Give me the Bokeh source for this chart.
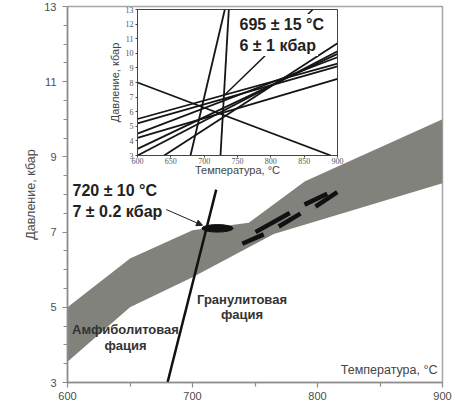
from bokeh.plotting import figure
from bokeh.models import Range1d, FixedTicker, Label, Arrow, NormalHead, ColumnDataSource
from bokeh.embed import file_html
from bokeh.resources import INLINE

# ---------------- main diagram data ----------------
band_upper_T = [600, 650, 700, 745, 790, 900]
band_upper_P = [5.0, 6.3, 7.05, 7.25, 8.35, 10.0]
band_lower_T = [600, 650, 700, 765, 900]
band_lower_P = [3.55, 5.0, 5.8, 6.95, 8.3]

reaction_T = [680, 719]
reaction_P = [3.0, 8.13]

estimate_T = [720]
estimate_P = [7.1]
estimate_dT = [25]
estimate_dP = [0.2]

dash_T0 = [739.8, 750.4, 769.0, 789.6, 798.4]
dash_P0 = [6.69, 7.00, 7.15, 7.73, 7.68]
dash_T1 = [757.0, 777.8, 786.4, 807.8, 815.8]
dash_P1 = [6.94, 7.51, 7.49, 8.02, 8.06]

main_x_ticks = [600, 700, 800, 900]
main_x_minor = [650, 750, 850]
main_y_ticks = [3, 5, 7, 9, 11, 13]
main_y_minor = [3.5, 4, 4.5, 5.5, 6, 6.5, 7.5, 8, 8.5, 9.5, 10, 10.5, 11.5, 12, 12.5]

# ---------------- inset data ----------------
inset_T0 = [600, 600, 600, 600, 600, 600, 640, 600, 679.5, 724.5]
inset_P0 = [5.5, 5.2, 4.5, 4.2, 3.45, 3.0, 3.0, 8.0, 3.0, 3.0]
inset_T1 = [900, 900, 900, 900, 900, 900, 900, 890, 731, 737]
inset_P1 = [9.3, 9.1, 9.73, 8.25, 9.96, 10.14, 10.69, 3.0, 13.0, 13.0]

inset_x_ticks = [600, 650, 700, 750, 800, 850, 900]
inset_y_ticks = [3, 4, 5, 6, 7, 8, 9, 10, 11, 12, 13]

leader_T = [731, 863]
leader_P = [7.16, 13.0]

FONT = "Liberation Sans"

# ---------------- main figure ----------------
p = figure(width=458, height=405, x_range=Range1d(600, 900), y_range=Range1d(3, 13),
           output_backend="svg", toolbar_location=None,
           min_border_left=67, min_border_right=16, min_border_top=6, min_border_bottom=23)
p.styles = {"position": "absolute", "left": "0px", "top": "0px"}
p.xgrid.visible = False
p.ygrid.visible = False
p.outline_line_color = "#a6a6a6"
p.outline_line_width = 1.5

for ax in (p.xaxis[0], p.yaxis[0]):
    ax.axis_line_color = "#8c8c8c"
    ax.axis_line_width = 1.5
    ax.major_tick_line_color = "#8c8c8c"
    ax.minor_tick_line_color = "#8c8c8c"
    ax.major_tick_line_width = 1.2
    ax.minor_tick_line_width = 1.2
    ax.major_tick_in = 0
    ax.major_tick_out = 5
    ax.minor_tick_in = 0
    ax.minor_tick_out = 4
    ax.major_label_text_font = FONT
    ax.major_label_text_font_size = "11px"
    ax.major_label_text_color = "#4d4d4d"

p.xaxis.ticker = FixedTicker(ticks=main_x_ticks, minor_ticks=main_x_minor)
p.yaxis.ticker = FixedTicker(ticks=main_y_ticks, minor_ticks=main_y_minor)
p.xaxis.major_label_standoff = 4
p.yaxis.major_label_standoff = 6
p.yaxis.axis_label = "Давление, кбар"
p.yaxis.axis_label_text_font = FONT
p.yaxis.axis_label_text_font_size = "12.5px"
p.yaxis.axis_label_text_font_style = "normal"
p.yaxis.axis_label_text_color = "#4d4d4d"
p.yaxis.axis_label_standoff = 3

band_T = band_upper_T + band_lower_T[::-1]
band_P = band_upper_P + band_lower_P[::-1]
p.patch(band_T, band_P, fill_color="#82827d", line_color=None)

p.segment(x0=dash_T0, y0=dash_P0, x1=dash_T1, y1=dash_P1,
          line_color="#111111", line_width=4.5, line_cap="butt")

p.ellipse(x=estimate_T, y=estimate_P, width=estimate_dT, height=estimate_dP,
          fill_color="#111111", line_color="#111111")

p.line(reaction_T, reaction_P, line_color="#111111", line_width=2.5)

p.add_layout(Arrow(end=NormalHead(size=6, fill_color="#222222", line_color="#222222"),
                   x_start=679, y_start=7.6, x_end=708, y_end=7.18,
                   line_color="#222222", line_width=1))

def lab(fig, x, y, text, size, bold=False, align="left", color="#222222", bg=None):
    kw = {}
    if bg is not None:
        kw = dict(background_fill_color=bg, padding=2)
    fig.add_layout(Label(x=x, y=y, text=text, text_font=FONT, text_font_size=size,
                         text_font_style="bold" if bold else "normal",
                         text_align=align, text_baseline="middle", text_color=color, **kw))

lab(p, 604, 8.11, "720 ± 10 °C", "16px", bold=True)
lab(p, 604, 7.55, "7 ± 0.2 кбар", "16px", bold=True)
lab(p, 646.4, 4.41, "Амфиболитовая", "13px", bold=True, align="center", color="#333333")
lab(p, 646.4, 3.98, "фация", "13px", bold=True, align="center", color="#333333")
lab(p, 739.6, 5.21, "Гранулитовая", "13px", bold=True, align="center", color="#333333")
lab(p, 739.6, 4.81, "фация", "13px", bold=True, align="center", color="#333333")
lab(p, 896, 3.32, "Температура, °C", "12.5px", align="right", color="#444444")

# ---------------- inset figure ----------------
q = figure(width=240, height=177, x_range=Range1d(600, 900), y_range=Range1d(3, 13),
           output_backend="svg", toolbar_location=None,
           min_border_left=32, min_border_right=8, min_border_top=4, min_border_bottom=27)
q.styles = {"position": "absolute", "left": "105px", "top": "5px"}
q.border_fill_alpha = 0
q.background_fill_color = "white"
q.xgrid.visible = False
q.ygrid.visible = False
q.outline_line_color = "#444444"
q.outline_line_width = 1

for ax in (q.xaxis[0], q.yaxis[0]):
    ax.axis_line_color = "#444444"
    ax.major_tick_line_color = "#444444"
    ax.major_tick_in = 0
    ax.major_tick_out = 2
    ax.minor_tick_out = 0
    ax.minor_tick_in = 0
    ax.major_label_text_font = "Liberation Serif"
    ax.major_label_text_font_size = "8px"
    ax.major_label_text_color = "#555555"
    ax.axis_label_text_font = FONT
    ax.axis_label_text_font_size = "11px"
    ax.axis_label_text_font_style = "normal"
    ax.axis_label_text_color = "#444444"

q.xaxis.ticker = FixedTicker(ticks=inset_x_ticks)
q.yaxis.ticker = FixedTicker(ticks=inset_y_ticks)
q.xaxis.major_label_standoff = 0
q.yaxis.major_label_standoff = 2
q.xaxis.axis_label = "Температура, °C"
q.yaxis.axis_label = "Давление, кбар"
q.xaxis.axis_label_standoff = -3
q.yaxis.axis_label_standoff = 2

q.segment(x0=inset_T0, y0=inset_P0, x1=inset_T1, y1=inset_P1,
          line_color="#151515", line_width=1.8)
q.line(leader_T, leader_P, line_color="#151515", line_width=1.5)

lab(q, 750, 11.97, "695 ± 15 °C", "16px", bold=True, bg="white")
lab(q, 750, 10.53, "6 ± 1 кбар", "16px", bold=True, bg="white")

open("out.html", "w").write(file_html([p, q], INLINE))
